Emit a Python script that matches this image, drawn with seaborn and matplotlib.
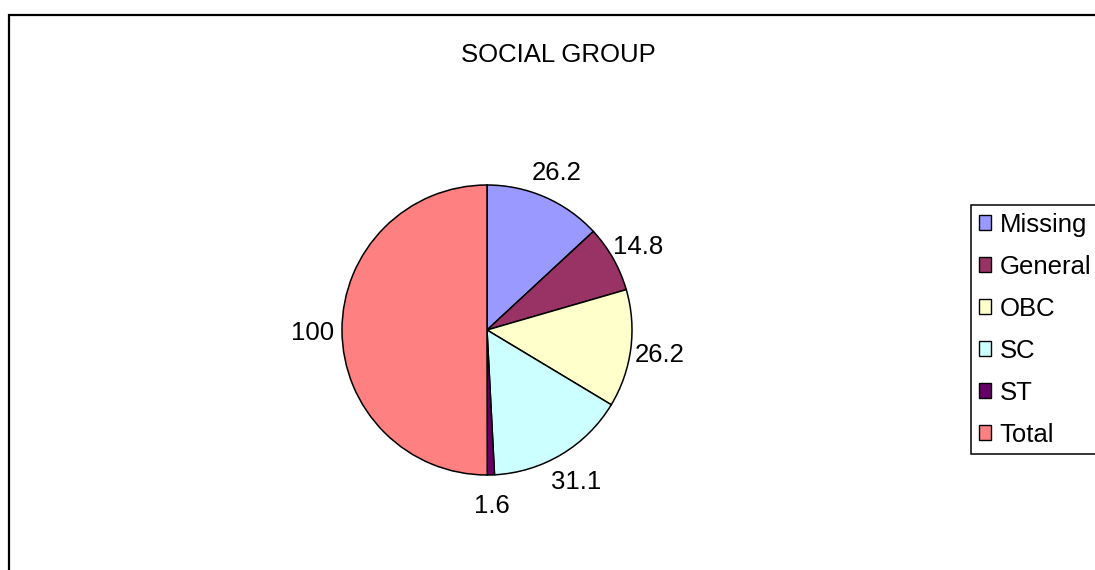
import matplotlib
matplotlib.use("Agg")
import matplotlib.pyplot as plt
import matplotlib.patches as mpatches
import seaborn as sns

categories = ["Missing", "General", "OBC", "SC", "ST", "Total"]
values = [26.2, 14.8, 26.2, 31.1, 1.6, 100]
value_labels = ["26.2", "14.8", "26.2", "31.1", "1.6", "100"]
colors_hex = ["#9999FF", "#993366", "#FFFFCC", "#CCFFFF", "#660066", "#FF8080"]
title = "SOCIAL GROUP"

sns.set_theme(style="white")
plt.rcParams["font.family"] = ["Liberation Sans", "DejaVu Sans"]
plt.rcParams["text.color"] = "black"
palette = sns.color_palette(colors_hex)

FS = 18.5
W, H = 1095, 570
fig = plt.figure(figsize=(W / 100, H / 100), dpi=100)
fig.patch.set_facecolor("white")

# pie axes: center (487,330), radius 145 px
cx, cy, r = 487, 330, 145
ax = fig.add_axes([(cx - r) / W, (H - cy - r) / H, 2 * r / W, 2 * r / H])
wedges, texts = ax.pie(values, labels=value_labels, colors=palette, startangle=90,
                       counterclock=False, labeldistance=1.2,
                       wedgeprops=dict(edgecolor="black", linewidth=1.1),
                       textprops=dict(fontsize=FS, color="black"))
for t in texts:
    t.set_ha("center")
    t.set_va("center_baseline")
ax.set_xlim(-1, 1)
ax.set_ylim(-1, 1)
ax.set_aspect("auto")
ax.axis("off")

# chart frame
frame = mpatches.Rectangle((9 / W, -0.1), 1.2, (H - 15) / H + 0.1,
                           transform=fig.transFigure, fill=False,
                           edgecolor="black", linewidth=1.6, zorder=0)
fig.patches.append(frame)

fig.text(558 / W, 1 - 52 / H, title, ha="center", va="center_baseline",
         fontsize=FS, color="black")

handles = [mpatches.Patch(facecolor=c, edgecolor="black", linewidth=1.0) for c in palette]
leg = fig.legend(handles, categories, loc="upper left",
                 bbox_to_anchor=(971 / W, 1 - 205 / H), bbox_transform=fig.transFigure,
                 fontsize=FS, frameon=True, fancybox=False, framealpha=1,
                 edgecolor="black", handlelength=0.47, handleheight=0.47,
                 handletextpad=0.35, labelspacing=0.7, borderpad=0.3,
                 borderaxespad=0, alignment="left", labelcolor="black")
leg.get_frame().set_linewidth(1.1)

fig.savefig("out.png", dpi=100)
